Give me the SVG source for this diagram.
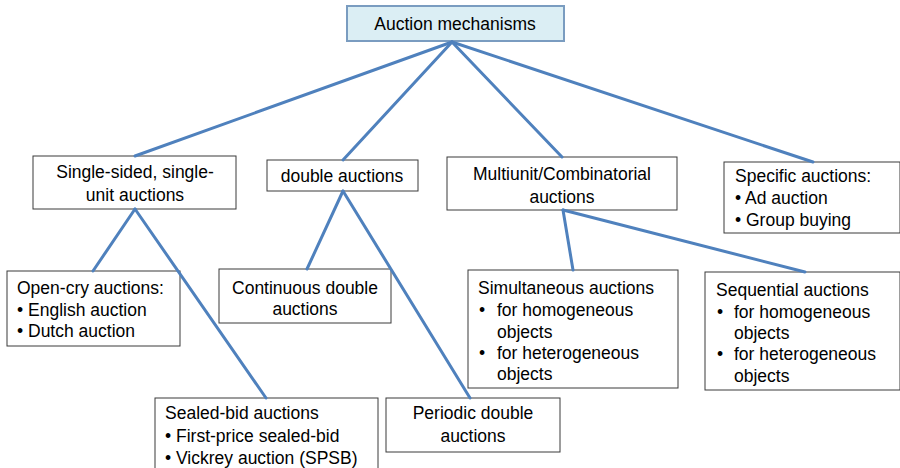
<svg xmlns="http://www.w3.org/2000/svg" width="900" height="468" viewBox="0 0 900 468">
<style>
text{font-family:"Liberation Sans",Arial,sans-serif;font-size:17.5px;fill:#000}
.c{text-anchor:middle}
.box{fill:#fff;stroke:#3a3a3a;stroke-width:1}
.root{fill:#dbeef4;stroke:#7a9cc0;stroke-width:2}
.con line{stroke:#4f81bd;stroke-width:3;stroke-linecap:round}
</style>
<rect width="900" height="468" fill="#fff"/>
<g id="root"><rect class="root" x="347" y="6" width="217" height="35"/><text class="c" x="455" y="30">Auction mechanisms</text></g>
<g id="single"><rect class="box" x="33" y="156" width="203" height="53"/><text class="c" x="135" y="178">Single-sided, single-</text><text class="c" x="135" y="201">unit auctions</text></g>
<g id="double"><rect class="box" x="267" y="160" width="151" height="31"/><text class="c" x="342" y="182">double auctions</text></g>
<g id="multi"><rect class="box" x="447" y="157" width="230" height="53"/><text class="c" x="562" y="180">Multiunit/Combinatorial</text><text class="c" x="562" y="203">auctions</text></g>
<g id="specific"><rect class="box" x="724" y="162" width="176" height="71"/><text x="735" y="182">Specific auctions:</text><text x="735" y="204">• Ad auction</text><text x="735" y="226">• Group buying</text></g>
<g id="opencry"><rect class="box" x="7" y="271" width="173" height="75"/><text x="17" y="294">Open-cry auctions:</text><text x="17" y="316">• English auction</text><text x="17" y="337">• Dutch auction</text></g>
<g id="continuous"><rect class="box" x="219" y="269" width="172" height="54"/><text class="c" x="305" y="294">Continuous double</text><text class="c" x="305" y="315">auctions</text></g>
<g id="simultaneous"><rect class="box" x="468" y="270" width="210" height="118"/><text x="478" y="294">Simultaneous auctions</text><text x="479" y="316">•</text><text x="497" y="316">for homogeneous</text><text x="497" y="338">objects</text><text x="479" y="359">•</text><text x="497" y="359">for heterogeneous</text><text x="497" y="380">objects</text></g>
<g id="sequential"><rect class="box" x="705" y="272" width="195" height="118"/><text x="716" y="296">Sequential auctions</text><text x="717" y="318">•</text><text x="734" y="318">for homogeneous</text><text x="734" y="339">objects</text><text x="717" y="360">•</text><text x="734" y="360">for heterogeneous</text><text x="734" y="382">objects</text></g>
<g id="sealed"><rect class="box" x="155" y="398" width="223" height="80"/><text x="165" y="419">Sealed-bid auctions</text><text x="165" y="442">• First-price sealed-bid</text><text x="165" y="464">• Vickrey auction (SPSB)</text></g>
<g id="periodic"><rect class="box" x="386" y="398" width="174" height="54"/><text class="c" x="473" y="419">Periodic double</text><text class="c" x="473" y="442">auctions</text></g>
<g id="connectors" class="con">
<line x1="452" y1="42" x2="135" y2="156"/>
<line x1="452" y1="42" x2="343" y2="160"/>
<line x1="452" y1="42" x2="562" y2="157"/>
<line x1="452" y1="42" x2="813" y2="162"/>
<line x1="135" y1="209" x2="93" y2="271"/>
<line x1="135" y1="209" x2="266" y2="398"/>
<line x1="343" y1="191" x2="307" y2="269"/>
<line x1="343" y1="191" x2="470" y2="398"/>
<line x1="563" y1="210" x2="573" y2="270"/>
<line x1="563" y1="210" x2="805" y2="272"/>
</g>
</svg>
